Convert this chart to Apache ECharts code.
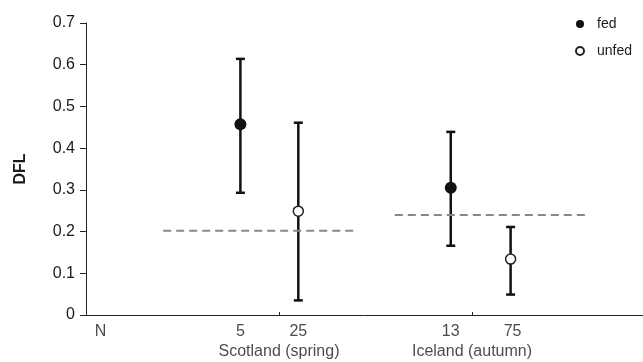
<!DOCTYPE html>
<html>
<head>
<meta charset="utf-8">
<script src="https://cdn.jsdelivr.net/npm/echarts@6/dist/echarts.min.js"></script>
<style>html,body{margin:0;padding:0;background:#fff}#c{width:643px;height:362px}</style>
</head>
<body>
<div id="c"></div>
<script>
// ---- data ----
var groupNames = ['Scotland (spring)', 'Iceland (autumn)'];
var groupPos = [1, 2];
var nLabels = ['N', '5', '25', '13', '75'];
var nPos = [0.075, 0.8, 1.1, 1.89, 2.21];
var fedX = [0.8, 1.89];
var fedMean = [0.457, 0.305];
var fedLow = [0.293, 0.166];
var fedHigh = [0.614, 0.439];
var unfedX = [1.1, 2.2];
var unfedMean = [0.249, 0.134];
var unfedLow = [0.035, 0.049];
var unfedHigh = [0.461, 0.211];
var refLevel = [0.202, 0.240];
var refStart = [0.4, 1.6];
var refEnd = [1.4, 2.6];
var yTicks = [0, 0.1, 0.2, 0.3, 0.4, 0.5, 0.6, 0.7];

var FONT = 'Liberation Sans, Arial, sans-serif';
var TXT = '#1a1a1a';
var chart = echarts.init(document.getElementById('c'), null, {renderer: 'canvas'});

function errData(xs, lo, hi) {
  return xs.map(function (x, i) { return [x, lo[i], hi[i]]; });
}
function errRender(params, api) {
  var x = api.value(0);
  var lo = api.coord([x, api.value(1)]);
  var hi = api.coord([x, api.value(2)]);
  var hw = 4.5;
  var st = {stroke: '#111', lineWidth: 2.5};
  return {
    type: 'group',
    children: [
      {type: 'line', shape: {x1: lo[0], y1: lo[1], x2: hi[0], y2: hi[1]}, style: st},
      {type: 'line', shape: {x1: lo[0] - hw, y1: lo[1], x2: lo[0] + hw, y2: lo[1]}, style: st},
      {type: 'line', shape: {x1: hi[0] - hw, y1: hi[1], x2: hi[0] + hw, y2: hi[1]}, style: st}
    ]
  };
}

var series = [];
// dashed reference lines
refLevel.forEach(function (v, i) {
  series.push({
    type: 'line', silent: true, symbol: 'none', z: 3,
    data: [[refStart[i], v], [refEnd[i], v]],
    lineStyle: {color: '#888', width: 2, type: [8, 5]}
  });
});
series.push({type: 'custom', renderItem: errRender, data: errData(fedX, fedLow, fedHigh), z: 2, silent: true});
series.push({type: 'custom', renderItem: errRender, data: errData(unfedX, unfedLow, unfedHigh), z: 2, silent: true});
series.push({
  name: 'fed', type: 'scatter', z: 5, symbol: 'circle', symbolSize: 12,
  itemStyle: {color: '#111', opacity: 1},
  data: fedX.map(function (x, i) { return [x, fedMean[i]]; })
});
series.push({
  name: 'unfed', type: 'scatter', z: 5, symbol: 'circle', symbolSize: 10,
  itemStyle: {color: '#fff', borderColor: '#222', borderWidth: 1.5, opacity: 1},
  data: unfedX.map(function (x, i) { return [x, unfedMean[i]]; })
});
// N tick labels
series.push({
  type: 'scatter', silent: true, symbolSize: 0, z: 6,
  data: nLabels.map(function (t, i) { return {name: t, value: [nPos[i], 0]}; }),
  label: {show: true, position: 'bottom', distance: 9, formatter: '{b}', color: TXT, fontSize: 16, fontFamily: FONT}
});
// group labels
series.push({
  type: 'scatter', silent: true, symbolSize: 0, z: 6,
  data: groupNames.map(function (t, i) { return {name: t, value: [groupPos[i], 0]}; }),
  label: {show: true, position: 'bottom', distance: 29, formatter: '{b}', color: TXT, fontSize: 16, fontFamily: FONT}
});

chart.setOption({
  animation: false,
  backgroundColor: '#fff',
  textStyle: {fontFamily: FONT},
  grid: {left: 86, right: 0, top: 23, bottom: 47, containLabel: false},
  legend: {
    orient: 'vertical', left: 570, top: 12, itemWidth: 24, itemHeight: 8, itemGap: 13,
    data: [{name: 'fed', icon: 'circle'}, {name: 'unfed', icon: 'circle'}],
    textStyle: {fontSize: 14, color: TXT, fontFamily: FONT}
  },
  xAxis: {
    type: 'value', min: 0, max: 2.886, interval: 1,
    axisLine: {show: true, lineStyle: {color: '#222', width: 1}},
    axisTick: {show: true, inside: true, length: 3, lineStyle: {color: '#222'}},
    axisLabel: {show: false},
    splitLine: {show: false}
  },
  yAxis: {
    type: 'value', min: yTicks[0], max: yTicks[yTicks.length - 1], interval: 0.1,
    name: 'DFL', nameLocation: 'middle', nameRotate: 90, nameGap: 57,
    nameTextStyle: {fontSize: 16, fontWeight: 'bold', color: TXT, fontFamily: FONT},
    axisLine: {show: true, lineStyle: {color: '#222', width: 1}},
    axisTick: {show: true, length: 6, lineStyle: {color: '#222'}},
    axisLabel: {color: TXT, fontSize: 16, margin: 11, fontFamily: FONT},
    splitLine: {show: false}
  },
  series: series
});
</script>
</body>
</html>
